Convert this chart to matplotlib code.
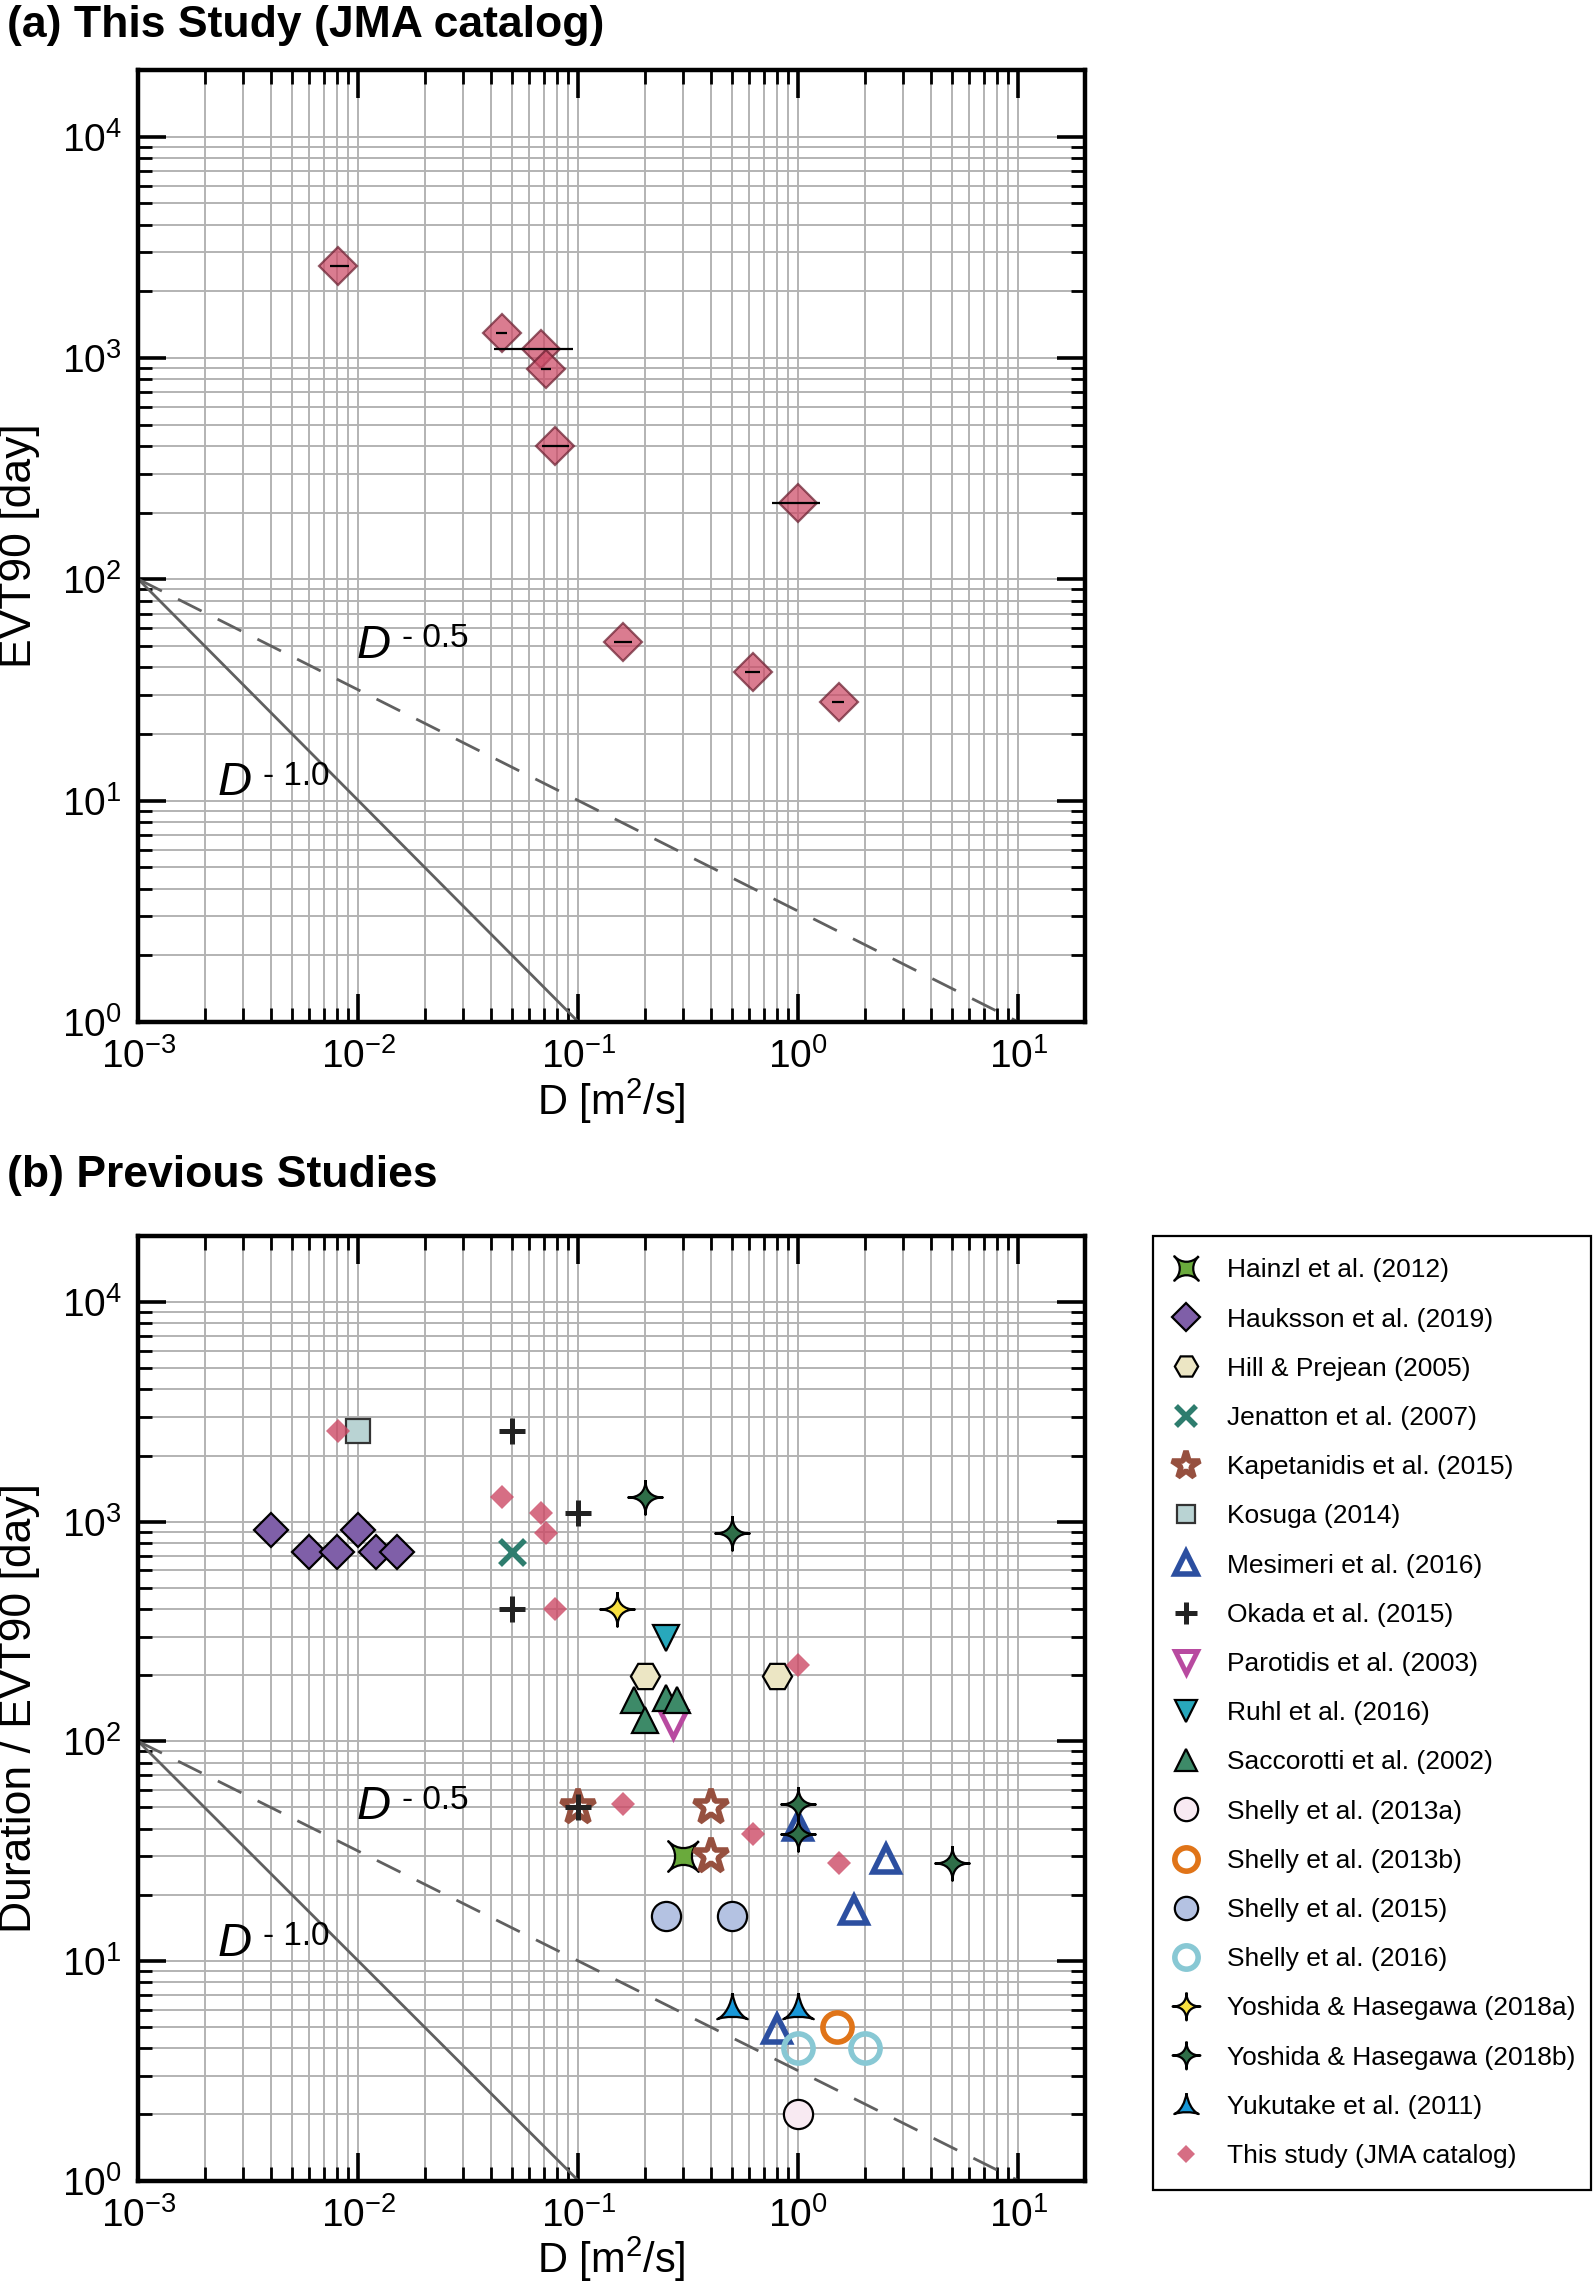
import numpy as np
import matplotlib
matplotlib.use("Agg")
import matplotlib.pyplot as plt
from matplotlib.path import Path
from matplotlib.lines import Line2D
from matplotlib.ticker import LogLocator

plt.rcParams["font.family"] = ["Liberation Sans", "DejaVu Sans"]
plt.rcParams["mathtext.fontset"] = "custom"
plt.rcParams["mathtext.rm"] = "Liberation Sans"
plt.rcParams["mathtext.it"] = "Liberation Sans:italic"
plt.rcParams["mathtext.bf"] = "Liberation Sans:bold"

# ── Data: this study (JMA catalog) ────────────────────────────────────────────
D_JMA = [0.0081, 0.045, 0.068, 0.071, 0.078, 1.0, 0.16, 0.62, 1.53]
EVT_JMA = [2600, 1290, 1100, 890, 400, 222, 52, 38, 28]
D_JMA_LO = [0.0074, 0.0422, 0.0412, 0.0678, 0.0681, 0.76, 0.145, 0.573, 1.43]
D_JMA_HI = [0.0091, 0.0473, 0.0950, 0.0750, 0.0903, 1.25, 0.175, 0.668, 1.61]

# ── Data: previous studies ────────────────────────────────────────────────────
HAINZL_D, HAINZL_T = [0.3], [30]
HAUKSSON_D = [0.004, 0.006, 0.008, 0.010, 0.012, 0.015]
HAUKSSON_T = [920, 730, 730, 920, 730, 730]
HILL_D, HILL_T = [0.2, 0.8], [198, 198]
JENATTON_D, JENATTON_T = [0.05], [730]
KAPET_D, KAPET_T = [0.1, 0.4, 0.4], [50, 50, 30]
KOSUGA_D, KOSUGA_T = [0.01], [2600]
MESIMERI_D, MESIMERI_T = [1.0, 2.5, 1.8, 0.8], [41, 29, 17, 4.9]
OKADA_D, OKADA_T = [0.05, 0.1, 0.05, 0.1], [2600, 1100, 400, 50]
PAROTIDIS_D, PAROTIDIS_T = [0.27], [120]
RUHL_D, RUHL_T = [0.25], [295]
SACCO_D, SACCO_T = [0.18, 0.25, 0.28, 0.2], [155, 157, 155, 125]
SHELLY13A_D, SHELLY13A_T = [1.0], [2.0]
SHELLY13B_D, SHELLY13B_T = [1.5], [5.0]
SHELLY15_D, SHELLY15_T = [0.25, 0.5], [16, 16]
SHELLY16_D, SHELLY16_T = [1.0, 2.0], [4.0, 4.0]
YOSH_A_D, YOSH_A_T = [0.15], [400]
YOSH_B_D, YOSH_B_T = [0.2, 0.5, 1.0, 1.0, 5.0], [1290, 890, 52, 38, 28]
YUKU_D, YUKU_T = [0.5, 1.0], [6.1, 6.1]

# reference power laws (end points)
REF1_D, REF1_T = [1e-3, 1e-1], [100, 1]
REF05_D, REF05_T = [1e-3, 1e1], [100, 1]

PINK = "#cc4a66"
REF_COLOR = "#606060"


# ── Custom marker shapes ──────────────────────────────────────────────────────
def sparkle(k=0.35):
    tips = [(0, 1), (1, 0), (0, -1), (-1, 0)]
    verts, codes = [tips[0]], [Path.MOVETO]
    for i in range(4):
        a, b = tips[i], tips[(i + 1) % 4]
        verts += [(a[0] * k, a[1] * k), (b[0] * k, b[1] * k), b]
        codes += [Path.CURVE4] * 3
    return Path(verts, codes)


def concave_square(k=0.4):
    corners = [(1, 1), (-1, 1), (-1, -1), (1, -1)]
    verts, codes = [corners[0]], [Path.MOVETO]
    for i in range(4):
        a, b = corners[i], corners[(i + 1) % 4]
        verts += [(a[0] * k, a[1] * k), (b[0] * k, b[1] * k), b]
        codes += [Path.CURVE4] * 3
    return Path(verts, codes)


def concave_tri():
    verts = [(0, 1),
             (-0.1, 0.3), (-0.45, -0.45), (-1, -0.7),
             (-0.5, -0.5), (0.5, -0.5), (1, -0.7),
             (0.45, -0.45), (0.1, 0.3), (0, 1)]
    codes = [Path.MOVETO] + [Path.CURVE4] * 9
    return Path(verts, codes)


SPARKLE = sparkle()
HAINZL_M = concave_square()
YUKU_M = concave_tri()

# legend order / styles
STUDIES = [
    ("Hainzl et al. (2012)", HAINZL_D, HAINZL_T,
     dict(marker=HAINZL_M, ms=11, mfc="#6aaa3c", mec="black", mew=0.8)),
    ("Hauksson et al. (2019)", HAUKSSON_D, HAUKSSON_T,
     dict(marker="D", ms=8.8, mfc="#7f5fa8", mec="black", mew=0.8)),
    ("Hill & Prejean (2005)", HILL_D, HILL_T,
     dict(marker="H", ms=10.5, mfc="#ece6c4", mec="black", mew=0.8)),
    ("Jenatton et al. (2007)", JENATTON_D, JENATTON_T,
     dict(marker="x", ms=9, mfc="none", mec="#2e7d6e", mew=2.0)),
    ("Kapetanidis et al. (2015)", KAPET_D, KAPET_T,
     dict(marker="*", ms=13, mfc="white", mec="#96503f", mew=2.0)),
    ("Kosuga (2014)", KOSUGA_D, KOSUGA_T,
     dict(marker="s", ms=8.5, mfc="#b9d3d3", mec="#333333", mew=0.8)),
    ("Mesimeri et al. (2016)", MESIMERI_D, MESIMERI_T,
     dict(marker="^", ms=9.5, mfc="none", mec="#2c4fa0", mew=2.0)),
    ("Okada et al. (2015)", OKADA_D, OKADA_T,
     dict(marker="+", ms=9.5, mfc="none", mec="#222222", mew=1.8)),
    ("Parotidis et al. (2003)", PAROTIDIS_D, PAROTIDIS_T,
     dict(marker="v", ms=9.5, mfc="none", mec="#b84aa0", mew=1.8)),
    ("Ruhl et al. (2016)", RUHL_D, RUHL_T,
     dict(marker="v", ms=9.5, mfc="#28a8bc", mec="black", mew=0.8)),
    ("Saccorotti et al. (2002)", SACCO_D, SACCO_T,
     dict(marker="^", ms=9.5, mfc="#3d8a68", mec="black", mew=0.8)),
    ("Shelly et al. (2013a)", SHELLY13A_D, SHELLY13A_T,
     dict(marker="o", ms=10.5, mfc="#f8eaf2", mec="black", mew=0.8)),
    ("Shelly et al. (2013b)", SHELLY13B_D, SHELLY13B_T,
     dict(marker="o", ms=10.5, mfc="none", mec="#e07418", mew=2.0)),
    ("Shelly et al. (2015)", SHELLY15_D, SHELLY15_T,
     dict(marker="o", ms=10.5, mfc="#b4c2e2", mec="black", mew=0.8)),
    ("Shelly et al. (2016)", SHELLY16_D, SHELLY16_T,
     dict(marker="o", ms=10.5, mfc="none", mec="#88c8d4", mew=2.0)),
    ("Yoshida & Hasegawa (2018a)", YOSH_A_D, YOSH_A_T,
     dict(marker=SPARKLE, ms=12.5, mfc="#f8e040", mec="black", mew=0.8)),
    ("Yoshida & Hasegawa (2018b)", YOSH_B_D, YOSH_B_T,
     dict(marker=SPARKLE, ms=12.5, mfc="#2f6e48", mec="black", mew=0.8)),
    ("Yukutake et al. (2011)", YUKU_D, YUKU_T,
     dict(marker=YUKU_M, ms=11, mfc="#1898d8", mec="black", mew=0.8)),
    ("This study (JMA catalog)", D_JMA, EVT_JMA,
     dict(marker="D", ms=6.0, mfc=PINK, mec="none", mew=0, alpha=0.8)),
]

# ── Canvas ────────────────────────────────────────────────────────────────────
W_PX, H_PX, DPI = 1594, 2282, 200
fig = plt.figure(figsize=(W_PX / DPI, H_PX / DPI), dpi=DPI, facecolor="white")

L, R = 138.3 / W_PX, 1084.5 / W_PX
ax_a = fig.add_axes([L, (H_PX - 1021.9) / H_PX, R - L, (1021.9 - 69.9) / H_PX])
ax_b = fig.add_axes([L, (H_PX - 2180.6) / H_PX, R - L, (2180.6 - 1235.9) / H_PX])


def style_axes(ax):
    ax.set_xscale("log")
    ax.set_yscale("log")
    ax.set_xlim(1e-3, 20)
    ax.set_ylim(1, 2e4)
    for axis in (ax.xaxis, ax.yaxis):
        axis.set_major_locator(LogLocator(base=10, numticks=12))
        axis.set_minor_locator(LogLocator(base=10, subs=np.arange(2, 10), numticks=40))
    ax.tick_params(which="both", direction="in", top=True, right=True)
    ax.tick_params(which="major", length=10, width=1.3, labelsize=14, pad=6)
    ax.tick_params(which="minor", length=5, width=1.0)
    ax.grid(which="both", color="#b3b3b3", lw=0.7)
    ax.set_axisbelow(True)
    for s in ax.spines.values():
        s.set_linewidth(1.6)

    # power-law guides
    ax.plot(REF1_D, REF1_T, color=REF_COLOR, lw=1.0, zorder=2)
    ax.plot(REF05_D, REF05_T, color=REF_COLOR, lw=1.0, dashes=(9.5, 6.5), zorder=2)
    for (x, y, sup) in [(0.0118, 50, "- 0.5"), (0.00275, 12, "- 1.0")]:
        ax.text(x, y, "D", style="italic", fontsize=17, ha="center", va="center")
        ax.annotate(sup, xy=(x, y), xytext=(10, 2.5), textcoords="offset points",
                    fontsize=12, ha="left", va="center")

    ax.set_xlabel("D [m$^2$/s]", fontsize=15, labelpad=0)


style_axes(ax_a)
style_axes(ax_b)

# ─── (a) this study ──────────────────────────────────────────────────────────
xerr = [np.subtract(D_JMA, D_JMA_LO), np.subtract(D_JMA_HI, D_JMA)]
ax_a.plot(D_JMA, EVT_JMA, ls="none", marker="D", ms=9.6, mfc=PINK,
          mec="#6a1f30", mew=0.8, alpha=0.72, zorder=3)
ax_a.errorbar(D_JMA, EVT_JMA, xerr=xerr, fmt="none", ecolor="black",
              elinewidth=0.8, capsize=0, zorder=4)

# ─── (b) previous studies ────────────────────────────────────────────────────
handles = []
for label, dx, ty, st in STUDIES:
    z = 5 if label.startswith("This") else 3
    ax_b.plot(dx, ty, ls="none", zorder=z, **st)
    handles.append(Line2D([], [], ls="none", label=label, **st))

leg = ax_b.legend(handles=handles, loc="upper left", bbox_to_anchor=(1.0724, 0, 0.463, 1),
                  mode="expand", borderaxespad=0, fontsize=9.5, frameon=True,
                  fancybox=False, edgecolor="black", framealpha=1,
                  handlelength=0.8, handletextpad=1.15, borderpad=0.85,
                  labelspacing=0.955, markerscale=0.8)
leg.get_frame().set_linewidth(0.8)

# ── Titles and y labels ──────────────────────────────────────────────────────
fig.text(7 / W_PX, 1 - 26 / H_PX, "(a) This Study (JMA catalog)",
         fontsize=16, fontweight="bold", ha="left", va="center")
fig.text(7 / W_PX, 1 - 1176 / H_PX, "(b) Previous Studies",
         fontsize=16, fontweight="bold", ha="left", va="center")
fig.text(20 / W_PX, 1 - 546 / H_PX, "EVT90 [day]", fontsize=16,
         rotation=90, ha="center", va="center")
fig.text(20 / W_PX, 1 - 1708 / H_PX, "Duration / EVT90 [day]", fontsize=16,
         rotation=90, ha="center", va="center")

fig.savefig("out.png", dpi=DPI, facecolor="white")
